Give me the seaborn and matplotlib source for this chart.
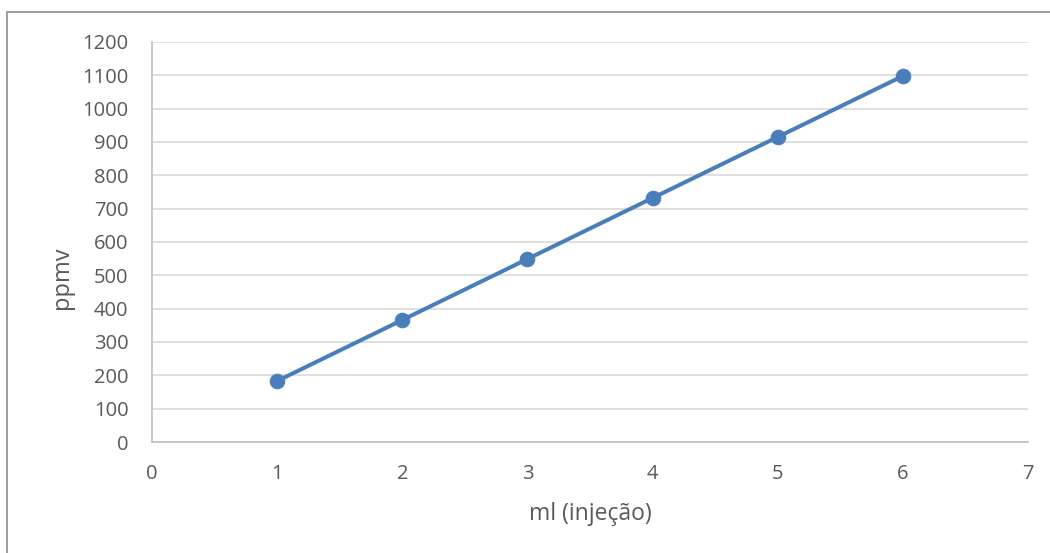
import matplotlib
matplotlib.use("Agg")
import matplotlib.pyplot as plt
from matplotlib.patches import Rectangle
import seaborn as sns
import pandas as pd

# Calibration: injected volume vs. concentration
volume_ml = [1, 2, 3, 4, 5, 6]
ppmv = [183, 366, 549, 732, 915, 1098]
x_ticks = [0, 1, 2, 3, 4, 5, 6, 7]
y_ticks = list(range(0, 1300, 100))

sns.set_theme(style="white")
plt.rcParams["font.family"] = ["Open Sans", "DejaVu Sans"]

text_color = "#595959"
line_color = "#4A7EBB"

df = pd.DataFrame({"ml": volume_ml, "ppmv": ppmv})

fig = plt.figure(figsize=(10.5, 5.53), dpi=100)
ax = fig.add_axes([152 / 1050, 1 - 442 / 553, (1028 - 152) / 1050, (442 - 42) / 553])

# chart area frame
fig.patches.append(Rectangle((7 / 1050, -0.1), 1.2, 1 - 12 / 553 + 0.1,
                             transform=fig.transFigure, fill=False,
                             edgecolor="#8C8C8C", linewidth=1.2, zorder=0))

sns.lineplot(data=df, x="ml", y="ppmv", ax=ax, color=line_color, linewidth=2.9,
             marker="o", markersize=10.5, markeredgecolor=line_color,
             markerfacecolor=line_color, zorder=3)

ax.set_xlim(0, 7)
ax.set_ylim(0, 1200)
ax.set_xticks(x_ticks)
ax.set_yticks(y_ticks)
ax.yaxis.grid(True, color="#D9D9D9", linewidth=1.2)
ax.xaxis.grid(False)
for side in ["top", "right"]:
    ax.spines[side].set_visible(False)
for side in ["left", "bottom"]:
    ax.spines[side].set_color("#BFBFBF")
    ax.spines[side].set_linewidth(1.2)
ax.tick_params(axis="both", length=0, labelsize=14.5, colors=text_color)
ax.tick_params(axis="x", pad=16)
ax.tick_params(axis="y", pad=17)

ax.set_xlabel("ml (injeção)", fontsize=16.5, color=text_color, va="center")
ax.set_ylabel("ppmv", fontsize=17, color=text_color, ha="center", va="center")
ax.xaxis.set_label_coords(0.5, (442 - 514) / 400)
ax.yaxis.set_label_coords((62 - 152) / 876, (442 - 278) / 400)

fig.savefig("out.png", dpi=100)
